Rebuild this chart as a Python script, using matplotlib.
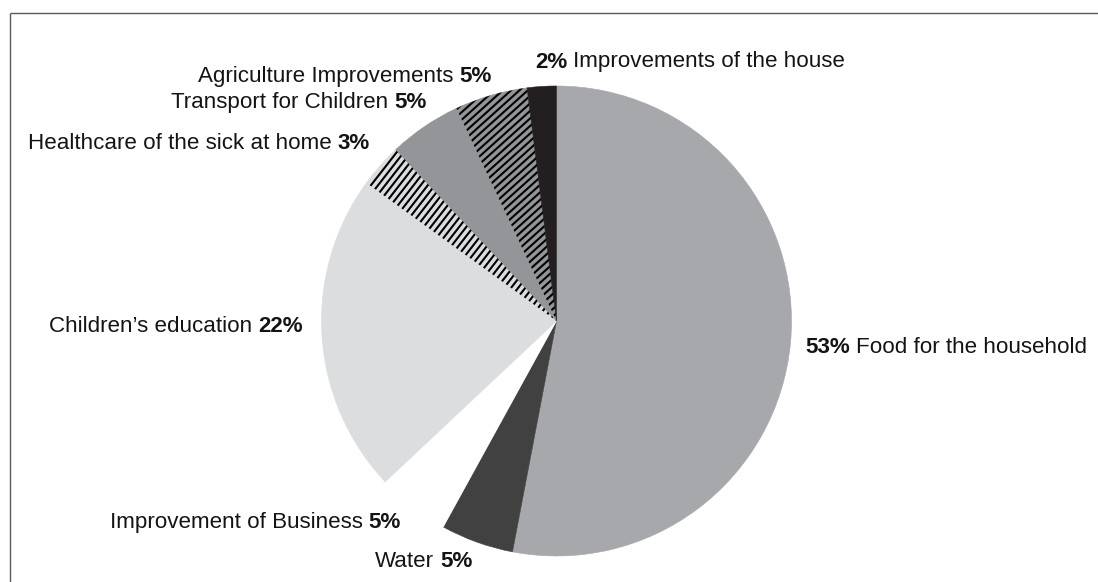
import numpy as np
import matplotlib
matplotlib.use("Agg")
import matplotlib.pyplot as plt
from matplotlib.lines import Line2D

# Household spending of remittances, clockwise from 12 o'clock
categories = [
    "Food for the household",
    "Water",
    "Improvement of Business",
    "Children’s education",
    "Healthcare of the sick at home",
    "Transport for Children",
    "Agriculture Improvements",
    "Improvements of the house",
]
shares = [53, 5, 5, 22, 3, 5, 5, 2]

# Styling per slice
colors = ["#a7a8ab", "#414141", "#ffffff", "#dcdddf",
          "#dcdddf", "#939598", "#939598", "#231f20"]
hatch_angles = [None, None, None, None, 52, None, 42, None]

# Label placement in pixels: (anchor x, baseline y from top, side, percent first?)
label_layout = [
    (805, 353, "left", True),
    (375, 567, "left", False),
    (401, 528, "right", False),
    (49, 332, "left", False),
    (28, 149, "left", False),
    (427, 108, "right", False),
    (492, 82, "right", False),
    (535, 67.5, "left", True),
]

W, H = 1098, 582
FONT = "Liberation Sans"
FS = 16.1
GAP = 4.4  # word space in points

fig = plt.figure(figsize=(W / 100, H / 100), dpi=100)
ax = fig.add_axes([0, 0, 1, 1])

cx, cy, r = 556.5, H - 321, 235
wedges, _ = ax.pie(
    shares, colors=colors, startangle=90, counterclock=False,
    center=(cx, cy), radius=r,
    wedgeprops=dict(linewidth=0.4),
)
for w, col in zip(wedges, colors):
    w.set_edgecolor(col)
ax.set_xlim(0, W)
ax.set_ylim(0, H)
ax.set_aspect("equal")
ax.axis("off")

# Diagonal line hatching clipped to the wedge
for w, ang in zip(wedges, hatch_angles):
    if ang is None:
        continue
    t = np.deg2rad(ang)
    d = np.array([np.cos(t), np.sin(t)])
    n = np.array([-np.sin(t), np.cos(t)])
    c = np.array([cx, cy])
    for off in np.arange(-r, r, 5.6):
        p0 = c + n * off - d * r
        p1 = c + n * off + d * r
        ln = Line2D([p0[0], p1[0]], [p0[1], p1[1]], color="black",
                    lw=1.5, solid_capstyle="butt")
        ax.add_line(ln)
        ln.set_clip_path(w)


def put_label(x, y_px, parts, side):
    y = H - y_px
    kw = dict(fontsize=FS, family=FONT, color="#141414")
    if side == "left":
        s, wt = parts[0]
        t = ax.text(x, y, s, ha="left", va="baseline", fontweight=wt, **kw)
        for s, wt in parts[1:]:
            t = ax.annotate(s, xy=(1, 0), xycoords=t, xytext=(GAP, 0),
                            textcoords="offset points", ha="left",
                            va="bottom", fontweight=wt, **kw)
    else:
        s, wt = parts[-1]
        t = ax.text(x, y, s, ha="right", va="baseline", fontweight=wt, **kw)
        for s, wt in reversed(parts[:-1]):
            t = ax.annotate(s, xy=(0, 0), xycoords=t, xytext=(-GAP, 0),
                            textcoords="offset points", ha="right",
                            va="bottom", fontweight=wt, **kw)


for name, val, (x, yb, side, pct_first) in zip(categories, shares, label_layout):
    pct = (f"{val}%", "bold")
    txt = (name, "normal")
    parts = [pct, txt] if pct_first else [txt, pct]
    put_label(x, yb, parts, side)

# Open frame along the top and left edges
frame_kw = dict(color="#5a5a5a", lw=1.0, solid_capstyle="butt")
ax.add_line(Line2D([9.5, W], [H - 12.5, H - 12.5], **frame_kw))
ax.add_line(Line2D([9.5, 9.5], [0, H - 12.5], **frame_kw))

fig.savefig("out.png", dpi=100)
